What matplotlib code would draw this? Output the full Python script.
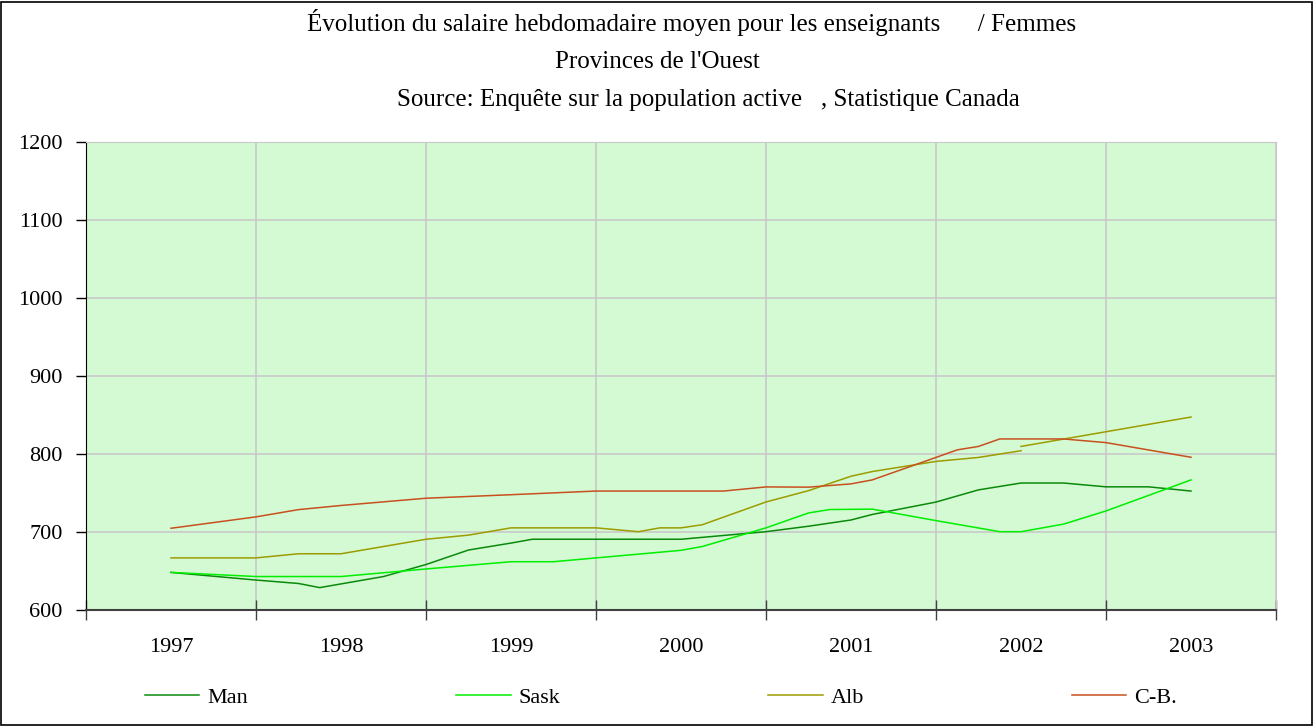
import numpy as np
import matplotlib
matplotlib.use("Agg")
import matplotlib.pyplot as plt
from matplotlib.patches import Rectangle

plt.rcParams['font.family'] = ['Liberation Serif', 'DejaVu Serif']

years = ['1997', '1998', '1999', '2000', '2001', '2002', '2003']

# positions are in eighths of a year, counted from the middle of 1997
man_k = [0, 4, 6, 7, 10, 12, 14, 16, 17, 24, 28, 30, 32, 33, 36, 38, 40, 42, 44, 46, 48]
man = [648.2, 638.4, 634.0, 628.7, 642.9, 658.3, 676.9, 685.8, 690.7, 690.7, 700.4,
       707.4, 715.4, 722.5, 738.4, 754.0, 762.8, 762.8, 757.9, 757.9, 752.5]

sask_k = [0, 4, 8, 12, 16, 18, 24, 25, 28, 30, 31, 33, 36, 39, 40, 42, 44, 48]
sask = [648.2, 642.9, 642.9, 652.6, 661.9, 661.9, 676.5, 681.4, 705.3, 724.4, 728.8,
        729.3, 714.6, 700.4, 700.4, 710.1, 727.0, 766.8]

alb_k = [0, 4, 6, 8, 12, 14, 16, 20, 22, 23, 24, 25, 28, 30, 32, 33, 36, 38, 40, 40, 40, 48]
alb = [666.8, 666.8, 672.1, 672.1, 690.7, 696.0, 705.3, 705.3, 700.4, 705.3, 705.3,
       709.3, 738.5, 753.0, 771.5, 777.5, 790.5, 795.6, 804.2, np.nan, 809.7, 847.4]

cb_k = [0, 4, 6, 8, 12, 16, 20, 26, 28, 30, 32, 33, 36, 37, 38, 39, 42, 44, 48]
cb = [704.8, 719.4, 728.7, 734.0, 743.3, 747.8, 752.5, 752.5, 757.8, 757.5, 761.7,
      766.8, 795.6, 805.3, 809.7, 819.3, 819.3, 814.6, 795.8]

series = [
    ('Man', man_k, man, '#0a8a0a'),
    ('Sask', sask_k, sask, '#00ee00'),
    ('Alb', alb_k, alb, '#9c9c00'),
    ('C-B.', cb_k, cb, '#c8501e'),
]

W, H = 1314, 727
fig = plt.figure(figsize=(W / 100, H / 100), dpi=100)
fig.patches.append(Rectangle((1 / W, 2 / H), (W - 3) / W, (H - 4) / H,
                             transform=fig.transFigure, fill=False,
                             edgecolor='black', linewidth=1.2))

ax = fig.add_axes([86 / W, 1 - 610 / H, 1190 / W, 468 / H])
ax.set_facecolor('#d4fad4')

handles = []
for name, k, vals, col in series:
    t = np.array(k) / 8.0
    ln, = ax.plot(t, vals, color=col, linewidth=1.1, label=name)
    handles.append(ln)

ax.set_xlim(-0.5, 6.5)
ax.set_ylim(600, 1200)
ax.set_yticks(np.arange(600, 1201, 100))
ax.set_xticks(np.arange(len(years)))
ax.set_xticklabels(years)
ax.set_xticks(np.arange(-0.5, len(years)), minor=True)

ax.xaxis.grid(True, which='minor', color='#c8c8c8', linewidth=1.2)
ax.yaxis.grid(True, which='major', color='#c8c8c8', linewidth=1.2)
ax.set_axisbelow(True)

ax.tick_params(axis='x', which='major', length=0, labelsize=16, pad=20, colors='black')
ax.tick_params(axis='x', which='minor', length=15, direction='inout', width=1, color='#404040')
ax.tick_params(axis='y', which='major', length=7, direction='out', width=1, labelsize=16, pad=10)

ax.spines['left'].set_color('black')
ax.spines['bottom'].set_color('#404040')
ax.spines['bottom'].set_linewidth(1.5)
ax.spines['top'].set_color('#c8c8c8')
ax.spines['right'].set_color('#c8c8c8')

fig.text(692 / W, 1 - 22 / H, "Évolution du salaire hebdomadaire moyen pour les enseignants      / Femmes",
         ha='center', va='center', fontsize=18)
fig.text(657 / W, 1 - 62 / H, "Provinces de l'Ouest", ha='center', va='center', fontsize=18)
fig.text(708 / W, 1 - 100 / H, "Source: Enquête sur la population active   , Statistique Canada",
         ha='center', va='center', fontsize=18)

fig.legend(handles=handles, loc='center left', ncol=4, mode='expand',
           bbox_to_anchor=(145 / W, 1 - 698 / H, (1177 - 145) / W, 0.0),
           frameon=False, fontsize=16, handlelength=2.45, handletextpad=0.35,
           borderaxespad=0, borderpad=0)

fig.savefig('out.png', dpi=100)
